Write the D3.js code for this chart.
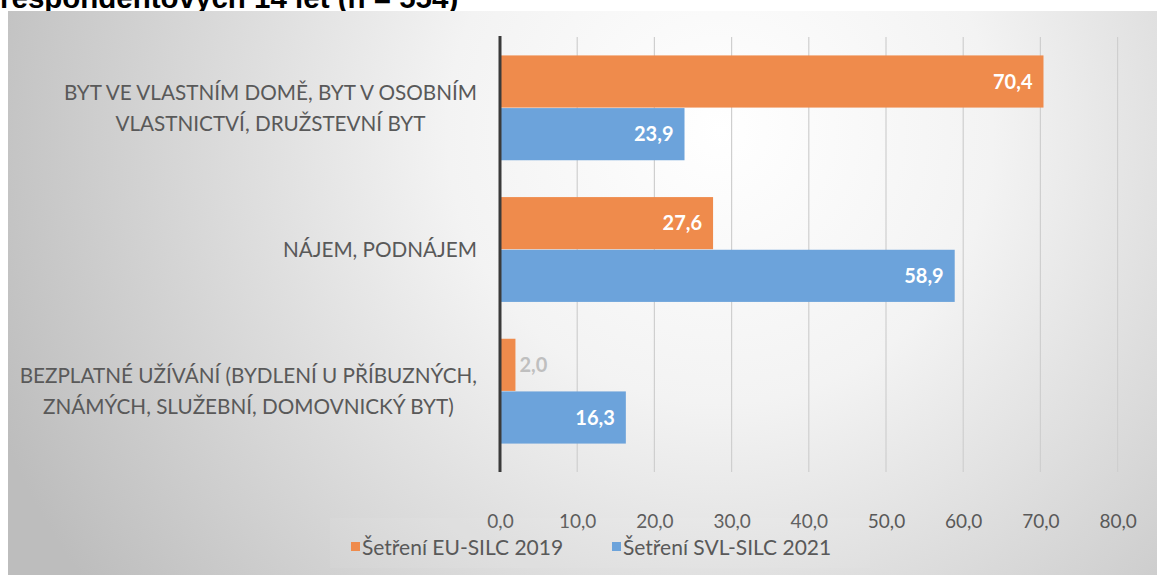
<!DOCTYPE html>
<html>
<head>
<meta charset="utf-8">
<script src="https://cdn.jsdelivr.net/npm/d3@7"></script>
<style>
  body { margin: 0; background: #ffffff; }
  svg { display: block; }
</style>
</head>
<body>
<div id="chart"></div>
<script>
// data
var categories = ["own", "rent", "free"];
var categoryLines = {
    own: ["BYT VE VLASTNÍM DOMĚ, BYT V OSOBNÍM", "VLASTNICTVÍ, DRUŽSTEVNÍ BYT"],
    rent: ["NÁJEM, PODNÁJEM"],
    free: ["BEZPLATNÉ UŽÍVÁNÍ (BYDLENÍ U PŘÍBUZNÝCH,", "ZNÁMÝCH, SLUŽEBNÍ, DOMOVNICKÝ BYT)"]
};
var seriesNames = ["Šetření EU-SILC 2019", "Šetření SVL-SILC 2021"];
var eu2019 = [70.4, 27.6, 2.0];
var svl2021 = [23.9, 58.9, 16.3];
var xTicks = [0, 10, 20, 30, 40, 50, 60, 70, 80];
var titleText = "respondentových 14 let (n = 554)";

var W = 1157, H = 575;
var colors = ["#ef8b4c", "#6ca3db"];
var labelFont = "Lato, 'Open Sans', sans-serif";

var data = categories.map(function(c, i) {
    return {cat: c, values: [eu2019[i], svl2021[i]]};
});

var svg = d3.select("#chart").append("svg").attr("width", W).attr("height", H);

// title (mostly cropped in the original picture)
svg.append("text").attr("x", 0).attr("y", 8)
    .attr("font-family", "'Liberation Sans', Arial, sans-serif")
    .attr("font-weight", "bold").attr("font-size", 29.5).attr("fill", "#000")
    .text(titleText);

// background gradient
var defs = svg.append("defs");
var grad = defs.append("radialGradient").attr("id", "bg")
    .attr("gradientUnits", "userSpaceOnUse")
    .attr("cx", 720).attr("cy", 130).attr("r", 780);
grad.append("stop").attr("offset", "0%").attr("stop-color", "#ffffff");
grad.append("stop").attr("offset", "35%").attr("stop-color", "#f3f3f3");
grad.append("stop").attr("offset", "100%").attr("stop-color", "#bdbdbd");

svg.append("rect").attr("x", 8).attr("y", 11).attr("width", W - 8).attr("height", H - 11)
    .attr("fill", "url(#bg)");

var x = d3.scaleLinear().domain([0, 80]).range([500, 1117.6]);
var y = d3.scaleBand().domain(categories).range([37, 462]).paddingInner(0.26).paddingOuter(0.13);
var y1 = d3.scaleBand().domain([0, 1]).range([0, y.bandwidth()]).paddingInner(0.01);

// gridlines
svg.append("g").selectAll("line").data(xTicks.slice(1)).enter().append("line")
    .attr("x1", d => x(d)).attr("x2", d => x(d))
    .attr("y1", 37).attr("y2", 472)
    .attr("stroke", "#cfcfcf").attr("stroke-width", 1.2);

// x axis labels
var xAxis = svg.append("g").attr("transform", "translate(0,472)")
    .call(d3.axisBottom(x).tickValues(xTicks).tickSize(0).tickPadding(0)
        .tickFormat(d => d3.format(".1f")(d).replace(".", ",")));
xAxis.select(".domain").remove();
xAxis.selectAll("text").attr("dy", 0).attr("y", 56)
    .attr("font-family", labelFont).attr("font-size", 19).attr("fill", "#595959");

// bars
var groups = svg.append("g").selectAll("g").data(data).enter().append("g")
    .attr("transform", d => "translate(0," + y(d.cat) + ")");

groups.selectAll("rect").data(d => d.values).enter().append("rect")
    .attr("x", x(0)).attr("y", (d, i) => y1(i))
    .attr("width", d => x(d) - x(0)).attr("height", y1.bandwidth())
    .attr("fill", (d, i) => colors[i]);

groups.selectAll("text").data(d => d.values).enter().append("text")
    .attr("y", (d, i) => y1(i) + y1.bandwidth() / 2)
    .attr("dy", "0.36em")
    .attr("x", d => d < 8 ? x(d) + 4 : x(d) - 11)
    .attr("text-anchor", d => d < 8 ? "start" : "end")
    .attr("font-family", labelFont).attr("font-weight", "bold").attr("font-size", 20)
    .attr("fill", d => d < 8 ? "#bfbfbf" : "#ffffff")
    .text(d => d3.format(".1f")(d).replace(".", ","));

// axis line
svg.append("line").attr("x1", x(0)).attr("x2", x(0)).attr("y1", 36).attr("y2", 472)
    .attr("stroke", "#3a3a3a").attr("stroke-width", 3);

// category labels: block right aligned, lines centred
var lineGap = 31;
categories.forEach(function(c) {
    var lines = categoryLines[c];
    var cy = y(c) + y.bandwidth() / 2;
    var g = svg.append("g");
    var texts = lines.map(function(l, i) {
        return g.append("text")
            .attr("y", cy + (i - (lines.length - 1) / 2) * lineGap)
            .attr("dy", "0.36em")
            .attr("text-anchor", "middle")
            .attr("font-family", labelFont).attr("font-size", 20.7).attr("fill", "#595959")
            .text(l);
    });
    var maxW = d3.max(texts, t => t.node().getComputedTextLength());
    texts.forEach(t => t.attr("x", 477 - maxW / 2));
});

// legend
svg.append("rect").attr("x", 330).attr("y", 518).attr("width", 540).attr("height", 50)
    .attr("fill", "#ffffff").attr("opacity", 0.06);
var legendX = [351, 612];
var leg = svg.append("g").selectAll("g").data(seriesNames).enter().append("g")
    .attr("transform", (d, i) => "translate(" + legendX[i] + ",547)");
leg.append("rect").attr("x", 0).attr("y", -5).attr("width", 9).attr("height", 9)
    .attr("fill", (d, i) => colors[i]);
leg.append("text").attr("x", 11).attr("dy", "0.36em")
    .attr("font-family", labelFont).attr("font-size", 21).attr("fill", "#595959")
    .text(d => d);
</script>
</body>
</html>
